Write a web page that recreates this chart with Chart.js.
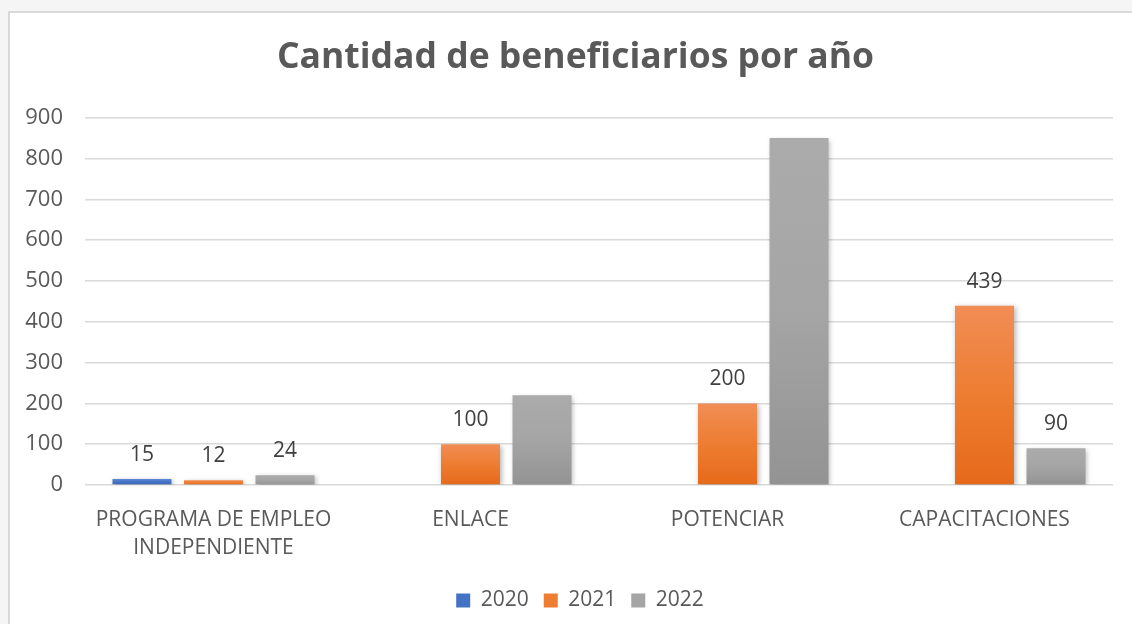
<!DOCTYPE html>
<html>
<head>
<meta charset="utf-8">
<script src="https://cdn.jsdelivr.net/npm/chart.js@4.4.1/dist/chart.umd.min.js"></script>
<style>
  html, body { margin: 0; padding: 0; background: #f5f5f5; width: 1132px; height: 624px; overflow: hidden; }
  #frame { position: absolute; left: 8px; top: 11px; width: 1200px; height: 700px; background: #ffffff; border-left: 2px solid #d9d9d9; border-top: 2px solid #d9d9d9; }
  #wrap { position: absolute; left: 0; top: 0; width: 1132px; height: 624px; }
</style>
</head>
<body>
<div id="frame"></div>
<div id="wrap"><canvas id="c" width="1132" height="624"></canvas></div>
<script>
const categories = [["PROGRAMA DE EMPLEO", "INDEPENDIENTE"], "ENLACE", "POTENCIAR", "CAPACITACIONES"];
const seriesNames = ["2020", "2021", "2022"];
const values2020 = [15, null, null, null];
const values2021 = [12, 100, 200, 439];
const values2022 = [24, 220, 850, 90];
const showLabel2020 = [true, false, false, false];
const showLabel2021 = [true, true, true, true];
const showLabel2022 = [true, false, false, true];
const yTicks = [0, 100, 200, 300, 400, 500, 600, 700, 800, 900];

const FONT = "'Open Sans', 'Noto Sans', sans-serif";
const palettes = [
  { top: '#5b87d6', bottom: '#3a65b6', solid: '#4472c4' },
  { top: '#f18d55', bottom: '#e6691b', solid: '#ed7d31' },
  { top: '#ababab', bottom: '#939393', solid: '#a5a5a5' }
];

function gradFor(p) {
  return function (ctx) {
    const chart = ctx.chart;
    const ys = chart.scales && chart.scales.y;
    if (!chart.chartArea || !ys || ctx.type !== 'data' || ctx.parsed == null || ctx.parsed.y == null) return p.solid;
    const yTop = ys.getPixelForValue(ctx.parsed.y);
    const yBot = ys.getPixelForValue(0);
    if (!isFinite(yTop) || Math.abs(yBot - yTop) < 1) return p.solid;
    const g = chart.ctx.createLinearGradient(0, yTop, 0, yBot);
    g.addColorStop(0, p.top);
    g.addColorStop(0.5, p.solid);
    g.addColorStop(1, p.bottom);
    return g;
  };
}

const labelFlags = [showLabel2020, showLabel2021, showLabel2022];

const shiftPlugin = {
  id: 'shiftBlocks',
  afterLayout(chart) {
    if (chart.titleBlock) chart.titleBlock.left += 18;
    if (chart.legend) chart.legend.left += 27;
  }
};

const shadowPlugin = {
  id: 'barShadow',
  beforeDatasetsDraw(chart) {
    const c = chart.ctx;
    c.save();
    c.shadowColor = 'rgba(0,0,0,0.28)';
    c.shadowBlur = 5;
    c.shadowOffsetX = 1.5;
    c.shadowOffsetY = 1.5;
  },
  afterDatasetsDraw(chart) {
    chart.ctx.restore();
  }
};

const labelPlugin = {
  id: 'valueLabels',
  afterDatasetsDraw(chart) {
    const c = chart.ctx;
    c.save();
    c.font = "21px " + FONT;
    c.fillStyle = '#404040';
    c.textAlign = 'center';
    c.textBaseline = 'middle';
    chart.data.datasets.forEach((ds, di) => {
      const meta = chart.getDatasetMeta(di);
      meta.data.forEach((bar, i) => {
        const v = ds.data[i];
        if (v == null || !labelFlags[di][i]) return;
        c.fillText(String(v), bar.x, bar.y - 24);
      });
    });
    c.restore();
  }
};

const seriesValues = [values2020, values2021, values2022];

new Chart(document.getElementById('c'), {
  type: 'bar',
  data: {
    labels: categories,
    datasets: seriesNames.map((name, i) => ({
      label: name,
      data: seriesValues[i],
      backgroundColor: gradFor(palettes[i]),
      borderWidth: 0,
      categoryPercentage: 0.835,
      barPercentage: 0.825
    }))
  },
  options: {
    responsive: false,
    animation: false,
    layout: { padding: { left: 20, right: 19, top: 37, bottom: 3 } },
    plugins: {
      title: {
        display: true,
        text: 'Cantidad de beneficiarios por año',
        color: '#595959',
        font: { family: FONT, size: 35.5, weight: 'bold' },
        padding: { top: 0, bottom: 38 }
      },
      legend: {
        position: 'bottom',
        labels: {
          color: '#595959',
          font: { family: FONT, size: 21 },
          boxWidth: 14,
          boxHeight: 14,
          padding: 15,
          generateLabels(chart) {
            return chart.data.datasets.map((ds, i) => ({
              text: ds.label,
              fillStyle: palettes[i].solid,
              strokeStyle: palettes[i].solid,
              lineWidth: 0,
              fontColor: '#595959',
              datasetIndex: i,
              hidden: false
            }));
          }
        }
      },
      tooltip: { enabled: false }
    },
    scales: {
      x: {
        grid: { display: false },
        border: { display: false },
        ticks: {
          color: '#595959',
          font: { family: FONT, size: 21, lineHeight: 1.38 },
          padding: 12,
          maxRotation: 0,
          autoSkip: false
        }
      },
      y: {
        min: 0,
        max: 900,
        afterFit(scale) { scale.width = 65; },
        afterBuildTicks(scale) { scale.ticks = yTicks.map(v => ({ value: v })); },
        grid: { color: '#d9d9d9', lineWidth: 1.5, drawTicks: false },
        border: { display: false },
        ticks: {
          color: '#595959',
          font: { family: FONT, size: 22 },
          padding: 22
        }
      }
    }
  },
  plugins: [shiftPlugin, shadowPlugin, labelPlugin]
});
</script>
</body>
</html>
